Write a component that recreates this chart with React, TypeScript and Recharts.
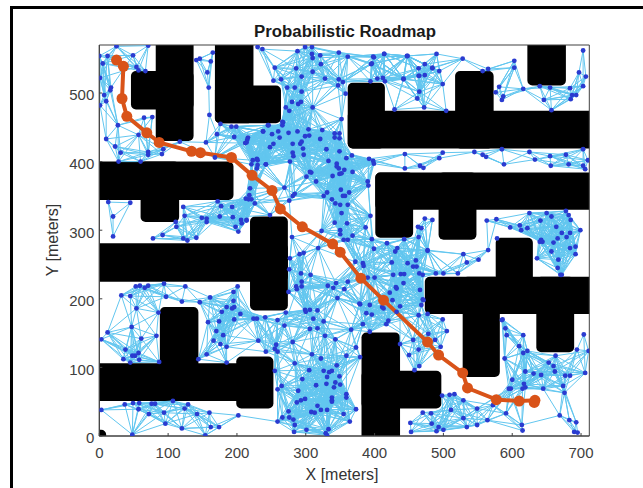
import React from 'react';
import { ComposedChart, Line, XAxis, YAxis, ReferenceArea } from 'recharts';

type P = [number, number];

const xTicks = [0, 100, 200, 300, 400, 500, 600, 700];
const yTicks = [0, 100, 200, 300, 400, 500];
const titleText = 'Probabilistic Roadmap';
const xLabelText = 'X [meters]';
const yLabelText = 'Y [meters]';

// Obstacles [x1, x2, y1, y2] (sides that run off the plot are extended and clipped)
const obstacles: number[][] = [
  [82,137,430,600],[46,137,476,532],[168,224,456,600],[168,264,456,511],
  [-30,195,344,400],[60,116,312,400],[219,274,183,320],[-30,274,225,281],
  [88,144,60,188],[-30,210,51,106],[199,253,40,116],
  [361,415,419,515],[517,573,419,532],[361,760,419,474],[622,678,511,600],
  [401,760,330,384],[401,456,289,384],[493,548,286,384],
  [576,630,178,289],[473,760,178,232],[528,582,86,232],[635,690,122,232],
  [381,437,-40,151],[381,497,40,95],[-12,10,-12,9],
];

const nodesTopLeft: P[] = [
  [0,554],[12,554],[25,568],[71,569],[49,555],[5,543],[54,538],[57,533],[67,532],[1,522],[17,508],[16,504],[7,497],[1,482],[10,488],
  [27,453],[65,464],[77,465],[10,433],[23,422],[57,439],[31,413],[28,400],[60,400],[71,414],[71,410],[93,418],[91,411],[117,429],
  [141,548],[146,550],[162,546],[165,559],[157,530],[159,508],[160,468],
  [176,455],[192,451],[199,451],[171,440],[155,428],[196,436],[168,406],[214,428],[216,435],
];
const nodesTopCentre: P[] = [
  [230,567],[237,564],[288,561],[299,567],[309,567],[309,557],[310,551],[321,555],[348,559],[361,553],[398,553],[414,557],[448,554],[490,557],
  [395,542],[473,542],[464,536],[484,536],[255,537],[286,536],[322,542],[294,524],[310,531],[328,521],[253,518],[264,520],[348,520],[354,516],[347,511],
  [394,517],[404,521],[412,522],[415,517],[442,521],[473,526],[464,525],[358,499],[273,508],[284,508],[294,502],[280,487],[293,487],[289,484],[271,479],[276,474],[310,479],[352,462],
];
const nodesCore: P[] = [
  [266,458],[266,453],[246,453],[238,444],[251,440],[275,442],[304,447],[324,446],[342,441],[349,441],[342,435],[349,434],[262,435],[299,437],[305,438],
  [294,429],[321,433],[215,432],[212,427],[253,426],[248,421],[281,426],[292,426],[296,419],[330,418],[349,415],[281,413],[282,408],[297,410],[367,409],
  [392,404],[398,401],[399,397],[359,405],[348,390],[333,401],[345,397],[345,393],[368,385],[356,388],[349,382],[352,383],[339,379],[308,384],[301,378],
  [277,400],[242,396],[221,396],[229,404],[229,390],[230,402],[223,402],[230,395],[242,396],[238,444],[245,453],[267,457],[260,444],[288,444],
];
const nodesCentre: P[] = [
  [306,385],[315,371],[390,371],[391,365],[331,355],[351,359],[326,350],[338,345],[363,355],[357,350],[354,350],[343,339],[350,337],[361,337],[352,325],
  [394,321],[342,311],[360,310],[387,304],[350,300],[350,294],[368,292],[355,286],[361,286],[396,287],[323,299],[280,290],[318,274],[297,267],[291,265],
  [277,259],[276,243],[293,237],[307,235],[294,225],[286,218],[287,214],[275,210],[294,218],[332,219],[340,216],[344,223],[361,225],[356,214],[346,201],[379,192],[299,184],
  [219,361],[218,351],[213,346],[221,345],[226,339],[248,322],[214,314],[207,310],[269,362],[284,353],[281,350],[276,343],
  [418,281],[443,287],[464,290],[463,305],[468,303],[473,317],[484,315],[477,271],[399,273],[430,269],[433,274],[372,254],[383,252],[384,248],[425,253],
  [448,252],[460,256],[456,247],[461,247],[438,236],[443,236],[465,237],[470,235],[390,231],[400,231],[442,223],[431,217],[422,209],[470,199],[411,188],
];
const nodesMidLeft: P[] = [
  [122,334],[124,321],[149,318],[156,317],[156,312],[172,342],[177,335],[193,334],[217,345],[175,320],[111,312],[112,305],[122,288],[128,285],[141,289],[78,288],[92,293],
  [194,319],[206,315],[214,315],[198,305],[202,298],[13,341],[20,320],[45,340],[20,291],
];
const nodesLowerLeft: P[] = [
  [32,205],[45,204],[53,218],[59,219],[66,216],[71,219],[94,222],[125,218],[201,218],[195,210],[97,203],[54,186],[86,180],[120,196],[146,195],[161,202],
  [195,197],[196,188],[185,188],[193,186],[178,181],[205,178],[196,170],[158,166],[174,167],[170,153],[180,147],[166,139],[176,134],[185,130],[156,119],[144,112],[185,107],
  [47,159],[83,146],[61,142],[12,151],[3,141],[38,126],[57,121],[52,117],[48,117],[35,112],[58,111],[45,107],[87,108],
  [37,46],[49,48],[58,48],[76,47],[81,47],[107,51],[129,46],[3,38],[57,39],[72,32],[94,34],[124,40],[142,32],[160,34],[202,30],[96,18],[120,11],[162,13],[174,13],[154,1],[48,2],
];
const nodesLowerCentre: P[] = [
  [224,171],[229,171],[241,173],[271,180],[259,169],[269,161],[300,181],[306,184],[317,183],[311,171],[326,167],[306,156],[317,157],[328,146],[343,141],[366,155],
  [388,179],[396,177],[383,163],[393,152],[417,163],[420,168],[231,139],[281,137],[257,133],[255,127],[259,123],[242,123],[309,119],[322,113],[359,117],[373,129],[379,115],
  [284,106],[345,103],[305,96],[255,95],[326,95],[338,95],[334,93],[331,86],[349,87],[295,83],[343,78],[330,76],[350,75],[315,74],[341,71],[265,73],[259,68],[289,66],
  [359,61],[359,56],[338,56],[338,52],[338,50],[299,54],[293,52],[287,49],[317,44],[322,38],[331,38],[373,39],[308,35],[313,34],[275,36],[355,32],[266,27],[276,27],[259,21],[282,24],[364,21],[284,16],[301,9],[283,6],[333,10],[329,4],[331,1],
];
const nodesMidRight: P[] = [
  [437,134],[450,118],[456,140],[464,126],[458,96],[465,102],[488,140],[478,149],[464,176],[477,178],[437,189],[468,191],
  [529,265],[534,253],[551,257],[565,271],[489,237],[500,237],[521,237],[477,270],
  [636,259],[640,283],[657,269],[667,257],[666,245],[692,265],[670,235],[672,235],[684,274],[644,283],
  [378,193],[426,198],[432,215],[427,235],[393,191],[413,186],[432,181],[499,170],[505,153],[496,130],[471,198],[466,213],
];
const nodesLowerRight: P[] = [
  [452,19],[453,6],[470,34],[482,33],[483,18],[493,13],[490,7],[500,9],[498,59],[509,60],[516,61],[511,38],[529,26],[529,52],[534,13],[549,16],[549,40],[564,23],[572,45],[591,33],
  [595,69],[615,69],[586,170],[590,157],[585,169],[592,147],[616,147],[610,131],[616,121],[622,124],[589,113],[598,69],[619,94],[642,89],[617,76],[619,71],[600,82],[645,69],
  [653,107],[663,117],[662,94],[660,102],[677,88],[684,88],[694,126],[704,148],[711,124],[706,92],[674,73],[676,63],[669,30],[683,23],[693,20],[690,6],[695,5],[631,91],[614,16],[615,8],
];
const nodesUpperRight: P[] = [
  [703,562],[697,530],[707,524],[703,510],[684,507],[687,497],[693,497],[685,491],[655,508],[640,510],[616,506],[646,490],[657,475],[603,547],[603,537],[581,509],[576,501],[587,495],[585,490],
  [565,535],[557,532],[528,550],[447,554],[414,557],[399,552],[396,543],[499,513],[465,502],[462,492],[429,476],[472,479],[504,474],[442,520],[465,525],[484,537],[494,532],
  [444,411],[444,390],[466,394],[471,391],[494,405],[499,413],[545,414],[557,410],[562,407],[585,418],[588,396],[625,414],[633,403],[655,408],[656,394],[678,410],[682,396],[703,418],[710,402],[703,394],[706,389],
  [563,314],[577,316],[597,304],[611,307],[613,300],[622,303],[625,325],[650,325],[678,328],[682,322],[641,314],[657,320],[664,305],[685,315],[642,286],[660,282],[666,288],[672,296],[679,290],[684,296],[699,300],[692,276],[578,288],
];

const pathPoints: P[] = [
  [25,548],[35,539],[33,492],[40,466],[69,442],[87,428],[134,415],[147,413],[192,406],[222,380],[251,358],[263,331],[295,305],
  [339,280],[350,268],[380,230],[413,198],[477,137],[493,118],[528,92],[535,70],[577,53],[610,51],[633,52],[632,49],
];

const allNodes: P[] = [
  ...nodesTopLeft, ...nodesTopCentre, ...nodesCore, ...nodesCentre, ...nodesMidLeft,
  ...nodesLowerLeft, ...nodesLowerCentre, ...nodesMidRight, ...nodesLowerRight, ...nodesUpperRight,
];

// The mesh is too dense to transcribe edge by edge: this table links the read nodes that lie
// within reach of each other when the straight link stays clear of the obstacles (a reconstruction).
const reach = 58;
const blocked = (a: P, b: P) => {
  for (let i = 0; i <= 24; i++) {
    const x = a[0] + ((b[0] - a[0]) * i) / 24;
    const y = a[1] + ((b[1] - a[1]) * i) / 24;
    if (obstacles.some(([x1, x2, y1, y2]) => x > x1 && x < x2 && y > y1 && y < y2)) return true;
  }
  return false;
};
const edgeRows: { x: number | null; y: number | null }[] = [];
allNodes.forEach((a, i) => {
  for (let j = i + 1; j < allNodes.length; j++) {
    const b = allNodes[j];
    if (Math.hypot(a[0] - b[0], a[1] - b[1]) < reach && !blocked(a, b)) {
      edgeRows.push({ x: a[0], y: a[1] }, { x: b[0], y: b[1] }, { x: null, y: null });
    }
  }
});
const nodeRows = allNodes.map(([x, y]) => ({ x, y }));
const pathRows = pathPoints.map(([x, y]) => ({ x, y }));

const font = '"Liberation Sans", Arial, sans-serif';
const axisColor = '#404040';
const tickStyle = { fontSize: 15, fontFamily: font, fill: '#404040' };
const xDomain: [number, number] = [0, 712];
const yDomain: [number, number] = [0, 570];

export default function App() {
  return (
    <div style={{ position: 'absolute', left: 0, top: 0, width: 643, height: 488, background: '#fff', overflow: 'hidden' }}>
      <div style={{ position: 'absolute', left: 10, top: 6, width: 640, height: 490, borderLeft: '3px solid #000', borderTop: '3px solid #000' }} />
      <div style={{ position: 'absolute', left: 0, top: 0 }}>
        <ComposedChart width={643} height={488} margin={{ top: 45, right: 53.7, bottom: 22, left: 39.3 }}>
          <XAxis dataKey="x" type="number" domain={xDomain} ticks={xTicks} height={30} allowDataOverflow
            stroke={axisColor} tick={tickStyle} tickSize={-3} tickMargin={14} interval={0} />
          <YAxis dataKey="y" type="number" domain={yDomain} ticks={yTicks} width={60} allowDataOverflow
            stroke={axisColor} tick={{ ...tickStyle, dy: 2 }} tickSize={-3} tickMargin={8} interval={0} />
          <XAxis xAxisId="top" dataKey="x" orientation="top" type="number" domain={xDomain} ticks={xTicks} height={0}
            stroke={axisColor} tick={false} tickSize={-3} interval={0} allowDataOverflow />
          <YAxis yAxisId="right" dataKey="y" orientation="right" type="number" domain={yDomain} ticks={yTicks} width={0}
            stroke={axisColor} tick={false} tickSize={-3} interval={0} allowDataOverflow />
          {obstacles.map(([x1, x2, y1, y2], i) => (
            <ReferenceArea key={i} x1={x1} x2={x2} y1={y1} y2={y2} ifOverflow="hidden"
              fill="#000" fillOpacity={1} stroke="none" radius={5} />
          ))}
          <Line data={edgeRows} dataKey="y" stroke="#62c6ef" strokeWidth={1} dot={false}
            connectNulls={false} isAnimationActive={false} legendType="none" />
          <Line data={nodeRows} dataKey="y" stroke="none" isAnimationActive={false} legendType="none"
            dot={{ r: 2.4, fill: '#2a3bd0', stroke: 'none' }} />
          <Line xAxisId="top" yAxisId="right" data={pathRows} dataKey="y" stroke="#d95319" strokeWidth={4} isAnimationActive={false} legendType="none"
            dot={{ r: 5.5, fill: '#d95319', stroke: 'none' }} />
          <ReferenceArea x1={xDomain[0]} x2={xDomain[1]} y1={yDomain[0]} y2={yDomain[1]} ifOverflow="visible"
            fill="none" stroke={axisColor} strokeWidth={1} />
          <text x={345} y={37} textAnchor="middle" style={{ fontFamily: font, fontWeight: 700, fontSize: 16.8, fill: '#1a1a1a' }}>{titleText}</text>
          <text x={342} y={480} textAnchor="middle" style={{ fontFamily: font, fontSize: 16, fill: '#333' }}>{xLabelText}</text>
          <text x={58} y={240} textAnchor="middle" transform="rotate(-90 58 240)" style={{ fontFamily: font, fontSize: 16, fill: '#333' }}>{yLabelText}</text>
        </ComposedChart>
      </div>
    </div>
  );
}
